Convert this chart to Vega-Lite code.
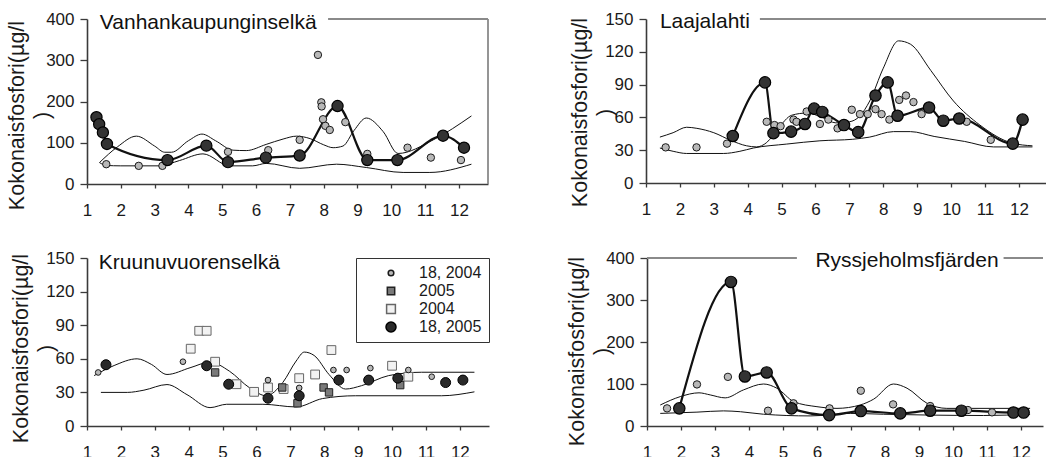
{
 "$schema": "https://vega.github.io/schema/vega-lite/v6.json",
 "padding": {"left": 5, "top": 10, "right": 0, "bottom": 0},
 "background": "white",
 "config": {
  "view": {"stroke": null},
  "font": "Liberation Sans",
  "axis": {"grid": false, "domainColor": "#3a3a3a", "domainWidth": 1.6, "tickColor": "#3a3a3a", "tickWidth": 1.3, "labelColor": "#1a1a1a", "labelFont": "Liberation Sans", "labelFontSize": 17, "titleFont": "Liberation Sans", "titleFontSize": 21.5, "titleFontWeight": "normal", "titleColor": "#1a1a1a", "labelOverlap": false, "labelFlush": false},
  "axisX": {"tickSize": 4, "labelPadding": 14},
  "axisY": {"tickSize": 7, "labelPadding": 6, "titleLineHeight": 25, "titleBaseline": "bottom"}
 },
 "resolve": {"scale": {"shape": "independent", "fill": "independent", "stroke": "independent", "size": "independent"}, "legend": {"shape": "independent", "fill": "independent", "stroke": "independent", "size": "independent"}},
 "datasets": {
  "ann": [
   {"p":"P1","k":"h","m":8.13,"m2":12.86,"v":400},
   {"p":"P1","k":"v","m":12.86,"v":0,"v2":400},
   {"p":"P1","k":"t","m":1.38,"v":390,"t":"Vanhankaupunginselkä"},
   {"p":"P2","k":"h","m":4.36,"m2":12.8,"v":150},
   {"p":"P2","k":"t","m":1.41,"v":146.8,"t":"Laajalahti"},
   {"p":"P3","k":"t","m":1.35,"v":145.5,"t":"Kruunuvuorenselkä"},
   {"p":"P4","k":"h","m":1,"m2":5.41,"v":400},
   {"p":"P4","k":"h","m":11.49,"m2":12.65,"v":400},
   {"p":"P4","k":"t","m":8.65,"v":394,"t":"Ryssjeholmsfjärden"}
  ],
  "env": [
   {"p":"P1","b":"u","m":1.37,"v":52},{"p":"P1","b":"u","m":1.9,"v":90},{"p":"P1","b":"u","m":2.46,"v":116},{"p":"P1","b":"u","m":3.0,"v":92},{"p":"P1","b":"u","m":3.3,"v":77},{"p":"P1","b":"u","m":3.5,"v":77},{"p":"P1","b":"u","m":4.0,"v":105},{"p":"P1","b":"u","m":4.4,"v":121},{"p":"P1","b":"u","m":4.8,"v":105},{"p":"P1","b":"u","m":5.32,"v":82},{"p":"P1","b":"u","m":5.71,"v":81},{"p":"P1","b":"u","m":6.3,"v":96},{"p":"P1","b":"u","m":6.8,"v":109},{"p":"P1","b":"u","m":7.2,"v":116},{"p":"P1","b":"u","m":7.6,"v":110},{"p":"P1","b":"u","m":8.0,"v":95},{"p":"P1","b":"u","m":8.28,"v":88},{"p":"P1","b":"u","m":8.57,"v":92},{"p":"P1","b":"u","m":8.9,"v":130},{"p":"P1","b":"u","m":9.26,"v":160},{"p":"P1","b":"u","m":9.76,"v":127},{"p":"P1","b":"u","m":10.2,"v":74},{"p":"P1","b":"u","m":11.24,"v":107},{"p":"P1","b":"u","m":12.37,"v":165},
   {"p":"P1","b":"l","m":1.37,"v":52},{"p":"P1","b":"l","m":1.57,"v":45},{"p":"P1","b":"l","m":2.0,"v":44},{"p":"P1","b":"l","m":3.15,"v":44},{"p":"P1","b":"l","m":3.74,"v":57},{"p":"P1","b":"l","m":4.43,"v":73},{"p":"P1","b":"l","m":5.22,"v":44},{"p":"P1","b":"l","m":5.9,"v":44},{"p":"P1","b":"l","m":6.3,"v":50},{"p":"P1","b":"l","m":7.29,"v":38},{"p":"P1","b":"l","m":8.38,"v":48},{"p":"P1","b":"l","m":9.26,"v":40},{"p":"P1","b":"l","m":10.35,"v":28},{"p":"P1","b":"l","m":11.14,"v":28},{"p":"P1","b":"l","m":12.37,"v":48},
   {"p":"P2","b":"u","m":1.41,"v":42},{"p":"P2","b":"u","m":1.8,"v":46},{"p":"P2","b":"u","m":2.2,"v":51},{"p":"P2","b":"u","m":2.5,"v":50},{"p":"P2","b":"u","m":3.0,"v":46},{"p":"P2","b":"u","m":3.5,"v":39},{"p":"P2","b":"u","m":3.97,"v":34},{"p":"P2","b":"u","m":4.26,"v":33},{"p":"P2","b":"u","m":4.56,"v":37},{"p":"P2","b":"u","m":4.9,"v":50},{"p":"P2","b":"u","m":5.3,"v":62},{"p":"P2","b":"u","m":5.75,"v":64},{"p":"P2","b":"u","m":6.2,"v":60},{"p":"P2","b":"u","m":6.6,"v":55},{"p":"P2","b":"u","m":7.0,"v":56},{"p":"P2","b":"u","m":7.3,"v":61},{"p":"P2","b":"u","m":7.6,"v":75},{"p":"P2","b":"u","m":8.0,"v":105},{"p":"P2","b":"u","m":8.45,"v":130},{"p":"P2","b":"u","m":8.8,"v":127},{"p":"P2","b":"u","m":9.4,"v":103},{"p":"P2","b":"u","m":10.07,"v":75},{"p":"P2","b":"u","m":10.85,"v":53},{"p":"P2","b":"u","m":11.8,"v":36.5},{"p":"P2","b":"u","m":12.4,"v":34},
   {"p":"P2","b":"l","m":1.41,"v":32},{"p":"P2","b":"l","m":1.8,"v":29},{"p":"P2","b":"l","m":2.2,"v":27},{"p":"P2","b":"l","m":3.28,"v":27},{"p":"P2","b":"l","m":3.77,"v":29},{"p":"P2","b":"l","m":4.17,"v":32},{"p":"P2","b":"l","m":5.15,"v":35.6},{"p":"P2","b":"l","m":6.13,"v":38.6},{"p":"P2","b":"l","m":7.1,"v":40},{"p":"P2","b":"l","m":7.6,"v":42},{"p":"P2","b":"l","m":8.3,"v":47},{"p":"P2","b":"l","m":8.8,"v":47},{"p":"P2","b":"l","m":9.5,"v":42.6},{"p":"P2","b":"l","m":10.4,"v":38},{"p":"P2","b":"l","m":11.25,"v":33},{"p":"P2","b":"l","m":12.4,"v":33},
   {"p":"P3","b":"u","m":1.21,"v":45},{"p":"P3","b":"u","m":1.8,"v":54},{"p":"P3","b":"u","m":2.48,"v":60},{"p":"P3","b":"u","m":2.9,"v":55},{"p":"P3","b":"u","m":3.36,"v":46},{"p":"P3","b":"u","m":4.04,"v":52},{"p":"P3","b":"u","m":4.63,"v":57},{"p":"P3","b":"u","m":5.2,"v":49},{"p":"P3","b":"u","m":5.8,"v":34},{"p":"P3","b":"u","m":6.29,"v":27},{"p":"P3","b":"u","m":6.78,"v":39},{"p":"P3","b":"u","m":7.17,"v":58},{"p":"P3","b":"u","m":7.41,"v":66},{"p":"P3","b":"u","m":7.7,"v":63},{"p":"P3","b":"u","m":8.14,"v":46},{"p":"P3","b":"u","m":8.63,"v":33},{"p":"P3","b":"u","m":9.1,"v":36},{"p":"P3","b":"u","m":9.9,"v":45},{"p":"P3","b":"u","m":10.87,"v":48},{"p":"P3","b":"u","m":12.43,"v":48},
   {"p":"P3","b":"l","m":1.41,"v":30},{"p":"P3","b":"l","m":2.19,"v":30},{"p":"P3","b":"l","m":2.68,"v":32},{"p":"P3","b":"l","m":3.36,"v":37},{"p":"P3","b":"l","m":3.95,"v":28},{"p":"P3","b":"l","m":4.63,"v":16.4},{"p":"P3","b":"l","m":5.12,"v":19.4},{"p":"P3","b":"l","m":6.19,"v":19.4},{"p":"P3","b":"l","m":7.17,"v":17},{"p":"P3","b":"l","m":7.95,"v":24.5},{"p":"P3","b":"l","m":8.92,"v":27},{"p":"P3","b":"l","m":11.46,"v":27},{"p":"P3","b":"l","m":12.43,"v":30.5},
   {"p":"P4","b":"u","m":1.39,"v":50},{"p":"P4","b":"u","m":1.98,"v":70},{"p":"P4","b":"u","m":2.53,"v":79},{"p":"P4","b":"u","m":2.86,"v":74},{"p":"P4","b":"u","m":3.3,"v":67},{"p":"P4","b":"u","m":3.84,"v":86},{"p":"P4","b":"u","m":4.43,"v":100},{"p":"P4","b":"u","m":4.82,"v":90},{"p":"P4","b":"u","m":5.32,"v":58},{"p":"P4","b":"u","m":6.0,"v":46},{"p":"P4","b":"u","m":6.59,"v":42},{"p":"P4","b":"u","m":7.27,"v":50},{"p":"P4","b":"u","m":7.67,"v":64},{"p":"P4","b":"u","m":8.25,"v":100},{"p":"P4","b":"u","m":8.65,"v":90},{"p":"P4","b":"u","m":9.24,"v":54},{"p":"P4","b":"u","m":9.82,"v":42},{"p":"P4","b":"u","m":12.27,"v":42},
   {"p":"P4","b":"l","m":1.39,"v":30},{"p":"P4","b":"l","m":2.47,"v":33},{"p":"P4","b":"l","m":3.25,"v":36},{"p":"P4","b":"l","m":3.75,"v":34},{"p":"P4","b":"l","m":4.43,"v":28},{"p":"P4","b":"l","m":5.8,"v":24},{"p":"P4","b":"l","m":6.98,"v":30},{"p":"P4","b":"l","m":7.96,"v":28},{"p":"P4","b":"l","m":9.33,"v":26},{"p":"P4","b":"l","m":10.9,"v":25},{"p":"P4","b":"l","m":12.27,"v":28}
  ],
  "pts": [
   {"p":"P1","s":"18, 2004","m":1.57,"v":48},{"p":"P1","s":"18, 2004","m":2.53,"v":44},{"p":"P1","s":"18, 2004","m":3.23,"v":44},{"p":"P1","s":"18, 2004","m":5.17,"v":78},{"p":"P1","s":"18, 2004","m":6.36,"v":82},{"p":"P1","s":"18, 2004","m":7.29,"v":107},{"p":"P1","s":"18, 2004","m":7.83,"v":313},{"p":"P1","s":"18, 2004","m":7.93,"v":198},{"p":"P1","s":"18, 2004","m":7.94,"v":188},{"p":"P1","s":"18, 2004","m":7.98,"v":157},{"p":"P1","s":"18, 2004","m":8.05,"v":141},{"p":"P1","s":"18, 2004","m":8.18,"v":131},{"p":"P1","s":"18, 2004","m":8.64,"v":150},{"p":"P1","s":"18, 2004","m":9.29,"v":73},{"p":"P1","s":"18, 2004","m":10.48,"v":88},{"p":"P1","s":"18, 2004","m":11.17,"v":64},{"p":"P1","s":"18, 2004","m":12.06,"v":58},
   {"p":"P1","s":"18, 2005","m":1.28,"v":162},{"p":"P1","s":"18, 2005","m":1.36,"v":145},{"p":"P1","s":"18, 2005","m":1.47,"v":125},{"p":"P1","s":"18, 2005","m":1.59,"v":97},{"p":"P1","s":"18, 2005","m":3.38,"v":58},{"p":"P1","s":"18, 2005","m":4.53,"v":93},{"p":"P1","s":"18, 2005","m":5.17,"v":53},{"p":"P1","s":"18, 2005","m":6.29,"v":64},{"p":"P1","s":"18, 2005","m":7.29,"v":69},{"p":"P1","s":"18, 2005","m":8.41,"v":189},{"p":"P1","s":"18, 2005","m":9.29,"v":58},{"p":"P1","s":"18, 2005","m":10.18,"v":58},{"p":"P1","s":"18, 2005","m":11.53,"v":117},{"p":"P1","s":"18, 2005","m":12.15,"v":88},
   {"p":"P2","s":"18, 2004","m":1.58,"v":32.6},{"p":"P2","s":"18, 2004","m":2.49,"v":32.6},{"p":"P2","s":"18, 2004","m":3.39,"v":36},{"p":"P2","s":"18, 2004","m":4.56,"v":56},{"p":"P2","s":"18, 2004","m":4.79,"v":53},{"p":"P2","s":"18, 2004","m":4.97,"v":52},{"p":"P2","s":"18, 2004","m":5.35,"v":58},{"p":"P2","s":"18, 2004","m":5.44,"v":56},{"p":"P2","s":"18, 2004","m":5.74,"v":65.4},{"p":"P2","s":"18, 2004","m":6.13,"v":54},{"p":"P2","s":"18, 2004","m":6.38,"v":58},{"p":"P2","s":"18, 2004","m":6.65,"v":50},{"p":"P2","s":"18, 2004","m":7.07,"v":67},{"p":"P2","s":"18, 2004","m":7.31,"v":63},{"p":"P2","s":"18, 2004","m":7.54,"v":63},{"p":"P2","s":"18, 2004","m":7.77,"v":67.5},{"p":"P2","s":"18, 2004","m":7.95,"v":63},{"p":"P2","s":"18, 2004","m":8.18,"v":58},{"p":"P2","s":"18, 2004","m":8.47,"v":76},{"p":"P2","s":"18, 2004","m":8.67,"v":80},{"p":"P2","s":"18, 2004","m":8.89,"v":74},{"p":"P2","s":"18, 2004","m":9.13,"v":63},{"p":"P2","s":"18, 2004","m":10.46,"v":56},{"p":"P2","s":"18, 2004","m":11.17,"v":39.5},
   {"p":"P2","s":"18, 2005","m":3.56,"v":43},{"p":"P2","s":"18, 2005","m":4.51,"v":92},{"p":"P2","s":"18, 2005","m":4.76,"v":45.6},{"p":"P2","s":"18, 2005","m":5.28,"v":47},{"p":"P2","s":"18, 2005","m":5.69,"v":54},{"p":"P2","s":"18, 2005","m":5.96,"v":68},{"p":"P2","s":"18, 2005","m":6.2,"v":65},{"p":"P2","s":"18, 2005","m":6.84,"v":53},{"p":"P2","s":"18, 2005","m":7.26,"v":46.5},{"p":"P2","s":"18, 2005","m":7.77,"v":80},{"p":"P2","s":"18, 2005","m":8.13,"v":92},{"p":"P2","s":"18, 2005","m":8.42,"v":61.5},{"p":"P2","s":"18, 2005","m":9.35,"v":69},{"p":"P2","s":"18, 2005","m":9.77,"v":57},{"p":"P2","s":"18, 2005","m":10.24,"v":59},{"p":"P2","s":"18, 2005","m":11.82,"v":36},{"p":"P2","s":"18, 2005","m":12.11,"v":58},
   {"p":"P3","s":"2004","m":4.06,"v":69},{"p":"P3","s":"2004","m":4.31,"v":85},{"p":"P3","s":"2004","m":4.53,"v":85},{"p":"P3","s":"2004","m":4.78,"v":57.4},{"p":"P3","s":"2004","m":5.41,"v":37.3},{"p":"P3","s":"2004","m":5.93,"v":30.5},{"p":"P3","s":"2004","m":6.34,"v":34.4},{"p":"P3","s":"2004","m":6.8,"v":33},{"p":"P3","s":"2004","m":7.26,"v":42.7},{"p":"P3","s":"2004","m":7.73,"v":46},{"p":"P3","s":"2004","m":8.21,"v":67.8},{"p":"P3","s":"2004","m":10.0,"v":53.8},{"p":"P3","s":"2004","m":10.48,"v":44},
   {"p":"P3","s":"18, 2004","m":1.33,"v":47.8},{"p":"P3","s":"18, 2004","m":3.83,"v":57.4},{"p":"P3","s":"18, 2004","m":6.34,"v":41},{"p":"P3","s":"18, 2004","m":7.26,"v":34},{"p":"P3","s":"18, 2004","m":8.27,"v":50},{"p":"P3","s":"18, 2004","m":8.66,"v":50},{"p":"P3","s":"18, 2004","m":9.36,"v":51.7},{"p":"P3","s":"18, 2004","m":10.48,"v":50},{"p":"P3","s":"18, 2004","m":11.17,"v":44},
   {"p":"P3","s":"2005","m":4.78,"v":47.8},{"p":"P3","s":"2005","m":6.76,"v":34.4},{"p":"P3","s":"2005","m":7.21,"v":20.3},{"p":"P3","s":"2005","m":7.98,"v":34.4},{"p":"P3","s":"2005","m":8.14,"v":30},{"p":"P3","s":"2005","m":10.24,"v":36.5},
   {"p":"P3","s":"18, 2005","m":1.56,"v":54.7},{"p":"P3","s":"18, 2005","m":4.53,"v":53.8},{"p":"P3","s":"18, 2005","m":5.18,"v":37.3},{"p":"P3","s":"18, 2005","m":6.34,"v":24.8},{"p":"P3","s":"18, 2005","m":7.26,"v":27},{"p":"P3","s":"18, 2005","m":8.43,"v":41},{"p":"P3","s":"18, 2005","m":9.31,"v":41},{"p":"P3","s":"18, 2005","m":10.17,"v":42.7},{"p":"P3","s":"18, 2005","m":11.58,"v":38.8},{"p":"P3","s":"18, 2005","m":12.09,"v":41},
   {"p":"P4","s":"18, 2004","m":1.59,"v":42},{"p":"P4","s":"18, 2004","m":2.47,"v":99},{"p":"P4","s":"18, 2004","m":3.38,"v":117},{"p":"P4","s":"18, 2004","m":4.56,"v":36.4},{"p":"P4","s":"18, 2004","m":5.31,"v":54},{"p":"P4","s":"18, 2004","m":6.37,"v":42},{"p":"P4","s":"18, 2004","m":7.29,"v":84},{"p":"P4","s":"18, 2004","m":8.24,"v":51.5},{"p":"P4","s":"18, 2004","m":9.33,"v":47.5},{"p":"P4","s":"18, 2004","m":10.44,"v":38},{"p":"P4","s":"18, 2004","m":11.15,"v":32.5},
   {"p":"P4","s":"18, 2005","m":1.95,"v":42},{"p":"P4","s":"18, 2005","m":3.47,"v":343},{"p":"P4","s":"18, 2005","m":3.88,"v":118},{"p":"P4","s":"18, 2005","m":4.52,"v":127.5},{"p":"P4","s":"18, 2005","m":5.25,"v":42},{"p":"P4","s":"18, 2005","m":6.36,"v":26},{"p":"P4","s":"18, 2005","m":7.29,"v":35.6},{"p":"P4","s":"18, 2005","m":8.45,"v":30},{"p":"P4","s":"18, 2005","m":9.33,"v":36.4},{"p":"P4","s":"18, 2005","m":10.25,"v":36.4},{"p":"P4","s":"18, 2005","m":11.78,"v":32},{"p":"P4","s":"18, 2005","m":12.08,"v":32}
  ]
 },
 "spacing": 31,
 "vconcat": [
  {"spacing": 79,
   "resolve": {"scale": {"shape": "independent", "fill": "independent", "stroke": "independent", "size": "independent"}, "legend": {"shape": "independent", "fill": "independent", "stroke": "independent", "size": "independent"}},
   "hconcat": [
   {"width": 401, "height": 165,
    "encoding": {
     "x": {"field": "m", "type": "quantitative", "scale": {"domain": [1, 12.86], "nice": false, "zero": false}, "axis": {"title": null, "values": [1,2,3,4,5,6,7,8,9,10,11,12]}},
     "y": {"field": "v", "type": "quantitative", "scale": {"domain": [0, 400], "nice": false}, "axis": {"title": ["Kokonaisfosfori(µg/l", ")"], "titleX": -59, "titleY": 96, "values": [0,100,200,300,400]}}
    },
    "layer": [
     {"data": {"name": "env"}, "transform": [{"filter": "datum.p === 'P1'"}], "mark": {"type": "line", "interpolate": "monotone", "color": "#111111", "strokeWidth": 1}, "encoding": {"detail": {"field": "b"}}},
     {"data": {"name": "pts"}, "transform": [{"filter": "datum.p === 'P1' && datum.s === '18, 2005'"}], "mark": {"type": "line", "interpolate": "monotone", "color": "#111111", "strokeWidth": 2.2}, "encoding": {}},
     {"data": {"name": "ann"}, "transform": [{"filter": "datum.p === 'P1' && datum.k === 'h'"}], "mark": {"type": "rule", "color": "#8a8a8a", "strokeWidth": 1.8}, "encoding": {"x2": {"field": "m2"}}},
     {"data": {"name": "ann"}, "transform": [{"filter": "datum.p === 'P1' && datum.k === 'v'"}], "mark": {"type": "rule", "color": "#8a8a8a", "strokeWidth": 1.8}, "encoding": {"y2": {"field": "v2"}}},
     {"data": {"name": "ann"}, "transform": [{"filter": "datum.p === 'P1' && datum.k === 't'"}], "mark": {"type": "text", "align": "left", "baseline": "middle", "fontSize": 21, "color": "#111111"}, "encoding": {"text": {"field": "t"}}},
     {"data": {"name": "pts"}, "transform": [{"filter": "datum.p === 'P1' && datum.s === '18, 2004'"}], "mark": {"type": "circle", "size": 55, "fill": "#b8b8b8", "stroke": "#1a1a1a", "strokeWidth": 1, "opacity": 1}, "encoding": {}},
     {"data": {"name": "pts"}, "transform": [{"filter": "datum.p === 'P1' && datum.s === '18, 2005'"}], "mark": {"type": "circle", "size": 125, "fill": "#333333", "stroke": "#000000", "strokeWidth": 1.2, "opacity": 1}, "encoding": {}}
    ]
   },
   {"width": 400, "height": 164,
    "encoding": {
     "x": {"field": "m", "type": "quantitative", "scale": {"domain": [1, 12.8], "nice": false, "zero": false}, "axis": {"title": null, "values": [1,2,3,4,5,6,7,8,9,10,11,12]}},
     "y": {"field": "v", "type": "quantitative", "scale": {"domain": [0, 150], "nice": false}, "axis": {"title": ["Kokonaisfosfori(µg/l", ")"], "titleX": -55, "titleY": 93, "values": [0,30,60,90,120,150]}}
    },
    "layer": [
     {"data": {"name": "env"}, "transform": [{"filter": "datum.p === 'P2'"}], "mark": {"type": "line", "interpolate": "monotone", "color": "#111111", "strokeWidth": 1}, "encoding": {"detail": {"field": "b"}}},
     {"data": {"name": "pts"}, "transform": [{"filter": "datum.p === 'P2' && datum.s === '18, 2005'"}], "mark": {"type": "line", "interpolate": "monotone", "color": "#111111", "strokeWidth": 2.2}, "encoding": {}},
     {"data": {"name": "ann"}, "transform": [{"filter": "datum.p === 'P2' && datum.k === 'h'"}], "mark": {"type": "rule", "color": "#8a8a8a", "strokeWidth": 1.8}, "encoding": {"x2": {"field": "m2"}}},
     {"data": {"name": "ann"}, "transform": [{"filter": "datum.p === 'P2' && datum.k === 't'"}], "mark": {"type": "text", "align": "left", "baseline": "middle", "fontSize": 21, "color": "#111111"}, "encoding": {"text": {"field": "t"}}},
     {"data": {"name": "pts"}, "transform": [{"filter": "datum.p === 'P2' && datum.s === '18, 2004'"}], "mark": {"type": "circle", "size": 55, "fill": "#b8b8b8", "stroke": "#1a1a1a", "strokeWidth": 1, "opacity": 1}, "encoding": {}},
     {"data": {"name": "pts"}, "transform": [{"filter": "datum.p === 'P2' && datum.s === '18, 2005'"}], "mark": {"type": "circle", "size": 130, "fill": "#333333", "stroke": "#000000", "strokeWidth": 1.2, "opacity": 1}, "encoding": {}}
    ]
   }
  ]},
  {"spacing": 75,
   "resolve": {"scale": {"shape": "independent", "fill": "independent", "stroke": "independent", "size": "independent"}, "legend": {"shape": "independent", "fill": "independent", "stroke": "independent", "size": "independent"}},
   "hconcat": [
   {"width": 402, "height": 168,
    "encoding": {
     "x": {"field": "m", "type": "quantitative", "scale": {"domain": [1, 12.86], "nice": false, "zero": false}, "axis": {"title": null, "values": [1,2,3,4,5,6,7,8,9,10,11,12]}},
     "y": {"field": "v", "type": "quantitative", "scale": {"domain": [0, 150], "nice": false}, "axis": {"title": ["Kokonaisfosfori(µg/l", ")"], "titleX": -55, "titleY": 90, "values": [0,30,60,90,120,150]}}
    },
    "layer": [
     {"data": {"name": "env"}, "transform": [{"filter": "datum.p === 'P3'"}], "mark": {"type": "line", "interpolate": "monotone", "color": "#111111", "strokeWidth": 1}, "encoding": {"detail": {"field": "b"}}},
     {"data": {"name": "ann"}, "transform": [{"filter": "datum.p === 'P3' && datum.k === 't'"}], "mark": {"type": "text", "align": "left", "baseline": "middle", "fontSize": 21, "color": "#111111"}, "encoding": {"text": {"field": "t"}}},
     {"data": {"name": "pts"}, "transform": [{"filter": "datum.p === 'P3'"}], "mark": {"type": "point", "filled": true, "opacity": 1, "strokeWidth": 1},
      "encoding": {
       "shape": {"field": "s", "type": "nominal", "scale": {"domain": ["18, 2004", "2005", "2004", "18, 2005"], "range": ["circle", "square", "square", "circle"]}, "legend": {"orient": "top-right", "offset": 0, "title": null, "strokeColor": "#333333", "fillColor": "#ffffff", "padding": 7, "labelFontSize": 16, "labelColor": "#1a1a1a", "symbolOffset": 20, "labelOffset": 20, "rowPadding": 2}},
       "fill": {"field": "s", "type": "nominal", "scale": {"domain": ["18, 2004", "2005", "2004", "18, 2005"], "range": ["#b8b8b8", "#7a7a7a", "#f2f2f2", "#2a2a2a"]}, "legend": {"orient": "top-right", "offset": 0, "title": null, "strokeColor": "#333333", "fillColor": "#ffffff", "padding": 7, "labelFontSize": 16, "labelColor": "#1a1a1a", "symbolOffset": 20, "labelOffset": 20, "rowPadding": 2}},
       "stroke": {"field": "s", "type": "nominal", "scale": {"domain": ["18, 2004", "2005", "2004", "18, 2005"], "range": ["#1a1a1a", "#222222", "#666666", "#000000"]}, "legend": {"orient": "top-right", "offset": 0, "title": null, "strokeColor": "#333333", "fillColor": "#ffffff", "padding": 7, "labelFontSize": 16, "labelColor": "#1a1a1a", "symbolOffset": 20, "labelOffset": 20, "rowPadding": 2}},
       "size": {"field": "s", "type": "nominal", "scale": {"domain": ["18, 2004", "2005", "2004", "18, 2005"], "range": [32, 100, 40, 95]}, "legend": {"orient": "top-right", "offset": 0, "title": null, "strokeColor": "#333333", "fillColor": "#ffffff", "padding": 7, "labelFontSize": 16, "labelColor": "#1a1a1a", "symbolOffset": 20, "labelOffset": 20, "rowPadding": 2}}
      }}
    ]
   },
   {"width": 396, "height": 168,
    "encoding": {
     "x": {"field": "m", "type": "quantitative", "scale": {"domain": [1, 12.65], "nice": false, "zero": false}, "axis": {"title": null, "values": [1,2,3,4,5,6,7,8,9,10,11,12]}},
     "y": {"field": "v", "type": "quantitative", "scale": {"domain": [0, 400], "nice": false}, "axis": {"title": ["Kokonaisfosfori(µg/l", ")"], "titleX": -59, "titleY": 93, "values": [0,100,200,300,400]}}
    },
    "layer": [
     {"data": {"name": "env"}, "transform": [{"filter": "datum.p === 'P4'"}], "mark": {"type": "line", "interpolate": "monotone", "color": "#111111", "strokeWidth": 1}, "encoding": {"detail": {"field": "b"}}},
     {"data": {"name": "pts"}, "transform": [{"filter": "datum.p === 'P4' && datum.s === '18, 2005'"}], "mark": {"type": "line", "interpolate": "monotone", "color": "#111111", "strokeWidth": 2.2}, "encoding": {}},
     {"data": {"name": "ann"}, "transform": [{"filter": "datum.p === 'P4' && datum.k === 'h'"}], "mark": {"type": "rule", "color": "#8a8a8a", "strokeWidth": 1.8}, "encoding": {"x2": {"field": "m2"}}},
     {"data": {"name": "ann"}, "transform": [{"filter": "datum.p === 'P4' && datum.k === 't'"}], "mark": {"type": "text", "align": "center", "baseline": "middle", "fontSize": 21, "color": "#111111"}, "encoding": {"text": {"field": "t"}}},
     {"data": {"name": "pts"}, "transform": [{"filter": "datum.p === 'P4' && datum.s === '18, 2004'"}], "mark": {"type": "circle", "size": 55, "fill": "#b8b8b8", "stroke": "#1a1a1a", "strokeWidth": 1, "opacity": 1}, "encoding": {}},
     {"data": {"name": "pts"}, "transform": [{"filter": "datum.p === 'P4' && datum.s === '18, 2005'"}], "mark": {"type": "circle", "size": 130, "fill": "#333333", "stroke": "#000000", "strokeWidth": 1.2, "opacity": 1}, "encoding": {}}
    ]
   }
  ]}
 ]
}
